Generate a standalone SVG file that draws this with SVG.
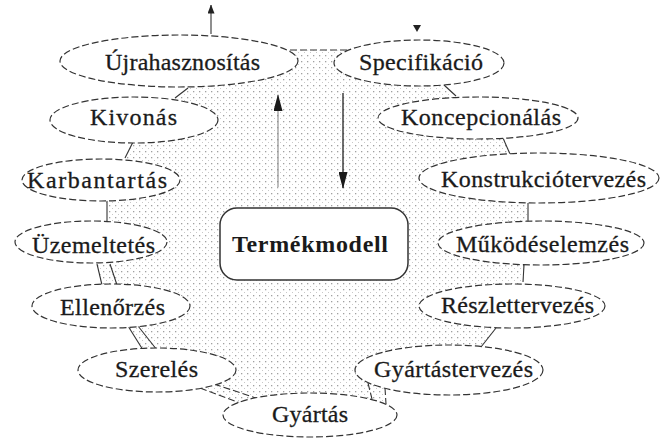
<svg xmlns="http://www.w3.org/2000/svg" width="662" height="438" viewBox="0 0 662 438" font-family="'Liberation Serif', 'Times New Roman', serif">
  <defs>
    <pattern id="dots" width="6" height="6" patternUnits="userSpaceOnUse">
      <rect x="1" y="1" width="1.3" height="1.3" fill="#a0a0a0"/>
      <rect x="4" y="4" width="1" height="1" fill="#c8c8c8"/>
    </pattern>
    <marker id="headDark" viewBox="0 0 9 7" refX="8.5" refY="3.5" markerWidth="9" markerHeight="7" markerUnits="userSpaceOnUse" orient="auto">
      <path d="M0,0 L9,3.5 L0,7 z" fill="#222"/>
    </marker>
    <marker id="headBig" viewBox="0 0 17 9" refX="16" refY="4.5" markerWidth="17" markerHeight="9" markerUnits="userSpaceOnUse" orient="auto">
      <path d="M0,0 L17,4.5 L0,9 z" fill="#1a1a1a"/>
    </marker>
  </defs>
  <style>
    .phase ellipse { fill: #fff; stroke: #333; stroke-width: 1.2; stroke-dasharray: 7 3; }
    .phase text { font-family: "Liberation Serif", "Times New Roman", serif; font-size: 24px; fill: #1a1a1a; stroke: #1a1a1a; stroke-width: 0.3; text-anchor: middle; }
    .link { stroke: #333; stroke-width: 1.1; fill: none; }
    .core rect { fill: #fff; stroke: #333; stroke-width: 1.5; }
    .core text { font-family: "Liberation Serif", "Times New Roman", serif; font-size: 24px; font-weight: bold; fill: #1a1a1a; text-anchor: middle; }
  </style>

  <!-- shaded interior of the life-cycle ring -->
  <path d="M290,50 L348,50 L444,86 L456,95 L503,138 L510,152 L528,207 L528,220 L524,267 L523,280 L496,328 L481,347 L385,388 L385,403 L310,414 L240,402 L200,388 L157,370 L143,348 L128,328 L111,306 L102,283 L97,267 L91,242 L107,220 L107,207 L101,180 L125,158 L133,142 L134,120 L175,98 L188,88 L179,61 Z" fill="url(#dots)"/>

  <g id="connectors">
    <line class="link" x1="290" y1="50" x2="348" y2="50" stroke-dasharray="7 3"/>
    <line class="link" x1="188" y1="88" x2="175" y2="98"/>
    <line class="link" x1="133" y1="142" x2="125" y2="158"/>
    <line class="link" x1="107" y1="200" x2="107" y2="222"/>
    <line class="link" x1="97" y1="264" x2="102" y2="285"/>
    <line class="link" x1="110" y1="264" x2="117" y2="285"/>
    <line class="link" x1="128" y1="326" x2="143" y2="350"/>
    <line class="link" x1="138" y1="326" x2="157" y2="350"/>
    <line class="link" x1="200" y1="388" x2="240" y2="403" stroke-dasharray="7 3"/>
    <line class="link" x1="214" y1="384" x2="256" y2="398" stroke-dasharray="7 3"/>
    <line class="link" x1="368" y1="383" x2="372" y2="399" stroke-dasharray="7 3"/>
    <line class="link" x1="385" y1="388" x2="386" y2="404" stroke-dasharray="7 3"/>
    <line class="link" x1="496" y1="328" x2="481" y2="347"/>
    <line class="link" x1="524" y1="265" x2="523" y2="282"/>
    <line class="link" x1="528" y1="203" x2="528" y2="222"/>
    <line class="link" x1="503" y1="138" x2="510" y2="154"/>
    <line class="link" x1="444" y1="85" x2="456" y2="96"/>
    <!-- flows leaving and entering the ring -->
    <line x1="211" y1="34" x2="211" y2="5" stroke="#333" stroke-width="1.1" marker-end="url(#headDark)"/>
    <path d="M413,25 L421,25 L417,32 z" fill="#222"/>
    <line x1="278" y1="187" x2="278" y2="95" stroke="#888" stroke-width="1.1" marker-end="url(#headBig)"/>
    <line x1="343" y1="93" x2="343" y2="188" stroke="#222" stroke-width="1.3" marker-end="url(#headBig)"/>
  </g>

  <g id="ujrahasznositas" class="phase">
    <ellipse cx="179" cy="61" rx="119" ry="26"/>
    <text x="182.5" y="70" textLength="155" lengthAdjust="spacing">Újrahasznosítás</text>
  </g>
  <g id="kivonas" class="phase">
    <ellipse cx="134" cy="120" rx="84" ry="23"/>
    <text x="133.5" y="125" textLength="87" lengthAdjust="spacing">Kivonás</text>
  </g>
  <g id="karbantartas" class="phase">
    <ellipse cx="101" cy="180" rx="79" ry="21"/>
    <text x="97" y="188" textLength="140" lengthAdjust="spacing">Karbantartás</text>
  </g>
  <g id="uzemeltetes" class="phase">
    <ellipse cx="91" cy="242" rx="76" ry="21"/>
    <text x="93.5" y="253" textLength="123" lengthAdjust="spacing">Üzemeltetés</text>
  </g>
  <g id="ellenorzes" class="phase">
    <ellipse cx="111" cy="306" rx="79" ry="22"/>
    <text x="112.5" y="315" textLength="105" lengthAdjust="spacing">Ellenőrzés</text>
  </g>
  <g id="szereles" class="phase">
    <ellipse cx="157" cy="370" rx="79" ry="22"/>
    <text x="156.5" y="377" textLength="83" lengthAdjust="spacing">Szerelés</text>
  </g>
  <g id="gyartas" class="phase">
    <ellipse cx="310" cy="415" rx="87" ry="22"/>
    <text x="310" y="422" textLength="76" lengthAdjust="spacing">Gyártás</text>
  </g>
  <g id="gyartastervezes" class="phase">
    <ellipse cx="449" cy="370" rx="94" ry="25"/>
    <text x="453.5" y="377" textLength="159" lengthAdjust="spacing">Gyártástervezés</text>
  </g>
  <g id="reszlettervezes" class="phase">
    <ellipse cx="512" cy="306" rx="93" ry="22"/>
    <text x="517.5" y="313" textLength="153" lengthAdjust="spacing">Részlettervezés</text>
  </g>
  <g id="mukodeselemzes" class="phase">
    <ellipse cx="541" cy="243" rx="103" ry="22"/>
    <text x="542.5" y="252" textLength="173" lengthAdjust="spacing">Működéselemzés</text>
  </g>
  <g id="konstrukciotervezes" class="phase">
    <ellipse cx="539" cy="178" rx="120" ry="25"/>
    <text x="543.5" y="187" textLength="205" lengthAdjust="spacing">Konstrukciótervezés</text>
  </g>
  <g id="koncepcionalas" class="phase">
    <ellipse cx="478" cy="118" rx="100" ry="21"/>
    <text x="481" y="125" textLength="160" lengthAdjust="spacing">Koncepcionálás</text>
  </g>
  <g id="specifikacio" class="phase">
    <ellipse cx="419" cy="63" rx="85" ry="23"/>
    <text x="421" y="70" textLength="124" lengthAdjust="spacing">Specifikáció</text>
  </g>

  <g id="termekmodell" class="core">
    <rect x="220" y="208" width="188" height="72" rx="17"/>
    <text x="310" y="252" textLength="156" lengthAdjust="spacing">Termékmodell</text>
  </g>
</svg>
